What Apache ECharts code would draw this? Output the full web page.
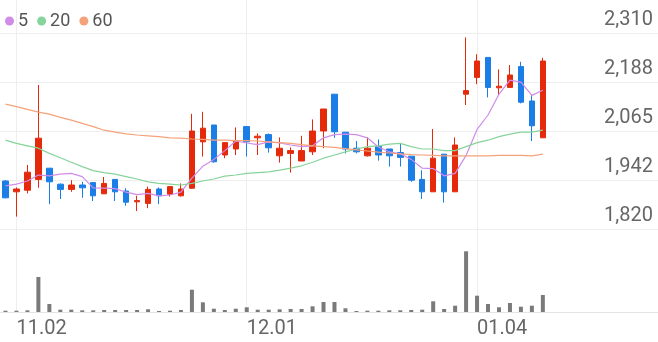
<!DOCTYPE html>
<html><head><meta charset="utf-8">
<script src="https://cdn.jsdelivr.net/npm/echarts@6/dist/echarts.min.js"></script>
<style>html,body{margin:0;padding:0;background:#fff}#c{width:658px;height:342px}</style>
</head><body><div id="c"></div>
<script>
const dates = ['11.01','11.02','11.03','11.06','11.07','11.08','11.09','11.10','11.13','11.14','11.15','11.16','11.17','11.20','11.21','11.22','11.23','11.24','11.27','11.28','11.29','11.30',
'12.01','12.04','12.05','12.06','12.07','12.08','12.11','12.12','12.13','12.14','12.15','12.18','12.19','12.20','12.21','12.22','12.26','12.27','12.28',
'01.02','01.03','01.04','01.05','01.08','01.09','01.10','01.11','01.12'];
const xTickLabels = ['11.02','12.01','01.04'];
const priceTicks = ['1,820','1,942','2,065','2,188','2,310'];
const openP  = [1940,1913,1917,1944,1972,1932,1919,1930,1936,1908,1944,1915,1888,1884,1920,1907,1903,1922,2038,2080,2005,2020,2076,2048,2056,2003,2009,1990,2013,2065,2157,2062,2022,2003,2026,2020,2011,2002,1944,1913,2007,1913,2157,2199,2249,2173,2174,2226,2140,2048];
const closeP = [1898,1920,1962,2047,1938,1919,1930,1923,1903,1934,1913,1887,1891,1919,1903,1926,1920,2065,2072,1988,2036,2041,2038,2052,2023,2022,2016,2016,2065,2120,2063,2020,2013,2022,2005,2003,1999,1942,1913,1997,1913,2030,2166,2240,2174,2177,2205,2137,2078,2240];
const lowP   = [1897,1851,1909,1923,1882,1895,1913,1898,1890,1908,1890,1878,1865,1872,1882,1901,1901,1920,2001,1986,1997,2005,2001,2005,2011,1986,1961,1990,2005,2022,2048,2009,2009,2001,1991,1976,1976,1938,1895,1913,1886,1913,2130,2182,2149,2155,2174,2134,2040,2048];
const highP  = [1942,1924,1980,2180,1972,1934,1942,1938,1936,1950,1944,1922,1903,1926,1924,1926,1934,2108,2113,2080,2036,2074,2076,2059,2059,2049,2024,2053,2094,2120,2157,2062,2040,2049,2044,2020,2034,2002,1967,2070,2007,2049,2299,2257,2249,2219,2230,2238,2155,2248];
const volume = [1300,1300,1700,35000,8000,2300,2300,1700,1700,2000,2000,2000,2000,2700,1000,1300,2000,22300,9700,3300,2000,3300,4700,2300,2300,2700,3000,3000,5700,10000,10000,3700,1000,1300,1300,1700,1700,2000,2300,10700,3000,6300,60700,16300,8000,4700,9000,5300,6300,17000];
const ma5  = [1928,1932,1940,1955,1953,1957,1959,1951,1923,1922,1921,1912,1906,1909,1903,1905,1912,1947,1977,1994,2016,2040,2035,2031,2038,2035,2030,2026,2028,2048,2056,2057,2056,2048,2025,2013,2008,1994,1972,1971,1953,1959,2004,2069,2105,2157,2192,2187,2154,2167];
const ma20 = [2042,2034,2028,2022,2009,1998,1987,1976,1966,1961,1957,1951,1945,1938,1934,1932,1930,1934,1940,1945,1952,1955,1959,1961,1963,1967,1972,1978,1987,1997,2005,2013,2020,2026,2028,2032,2034,2026,2020,2020,2016,2016,2026,2036,2042,2051,2057,2062,2062,2067];
const ma60 = [2132,2126,2119,2112,2107,2099,2092,2084,2076,2067,2062,2058,2055,2053,2051,2048,2047,2045,2044,2042,2042,2041,2041,2040,2038,2036,2034,2031,2028,2026,2024,2021,2018,2015,2012,2010,2008,2006,2005,2004,2003,2003,2003,2003,2003,2004,2004,2004,2003,2007];
const emptySlots = 10;

const RED = '#e52a0c', BLUE = '#1b7de6';
const categories = dates.concat(Array.from({length: emptySlots}, () => ''));
const candles = openP.map((o, i) => [o, closeP[i], lowP[i], highP[i]]);
const FONT = 'Roboto';

const chart = echarts.init(document.getElementById('c'), null, {renderer: 'canvas'});
chart.setOption({
  animation: false,
  backgroundColor: '#fff',
  legend: {
    data: ['5', '20', '60'], left: 0, top: 7, icon: 'circle', itemWidth: 9, itemHeight: 9, itemGap: 9,
    textStyle: {fontSize: 18, color: '#555', fontFamily: FONT, padding: [0, 0, 0, -1]}
  },
  grid: [
    {left: 0, right: 0, top: 33, height: 196},
    {left: 0, right: 0, top: 0, height: 312}
  ],
  xAxis: [
    {gridIndex: 0, type: 'category', data: categories, boundaryGap: true,
     axisLine: {show: false}, axisTick: {show: false}, axisLabel: {show: false}, splitLine: {show: false}},
    {gridIndex: 1, type: 'category', data: categories, boundaryGap: true,
     axisLine: {show: true, lineStyle: {color: '#e4e4e4', width: 1}}, axisTick: {show: false},
     axisLabel: {show: true, interval: (i, v) => xTickLabels.includes(v), align: 'left', margin: 7,
       fontSize: 20, color: '#666', fontFamily: FONT},
     splitLine: {show: true, alignWithLabel: true, interval: (i, v) => xTickLabels.includes(v), lineStyle: {color: '#eeeeee', width: 1}}}
  ],
  yAxis: [
    {gridIndex: 0, type: 'value', position: 'right', min: 1820, max: 2310, interval: 122.5,
     axisLine: {show: false}, axisTick: {show: false},
     axisLabel: {inside: true, margin: 5, fontSize: 20, color: '#666', fontFamily: FONT, verticalAlign: 'bottom', lineHeight: 20, padding: [0, 0, 3, 0],
       formatter: v => priceTicks[Math.round((v - 1820) / 122.5)]},
     splitLine: {show: true, lineStyle: {color: '#eeeeee', width: 1}}},
    {gridIndex: 1, type: 'value', min: 0, max: 312000, show: false}
  ],
  series: [
    {name: 'vol', type: 'bar', xAxisIndex: 1, yAxisIndex: 1, data: volume, barWidth: 4,
     itemStyle: {color: '#7a7a7a'}, silent: true},
    {name: 'k', type: 'candlestick', xAxisIndex: 0, yAxisIndex: 0, data: candles, barWidth: 6,
     itemStyle: {color: RED, color0: BLUE, borderColor: RED, borderColor0: BLUE, borderWidth: 1}},
    {name: '5', type: 'line', xAxisIndex: 0, yAxisIndex: 0, data: ma5, symbol: 'none', color: '#d08ce9',
     lineStyle: {width: 1.2, color: '#d08ce9'}},
    {name: '20', type: 'line', xAxisIndex: 0, yAxisIndex: 0, data: ma20, symbol: 'none', color: '#86d49a',
     lineStyle: {width: 1.2, color: '#86d49a'}},
    {name: '60', type: 'line', xAxisIndex: 0, yAxisIndex: 0, data: ma60, symbol: 'none', color: '#f5a27b',
     lineStyle: {width: 1.2, color: '#f5a27b'}}
  ]
});
</script></body></html>
